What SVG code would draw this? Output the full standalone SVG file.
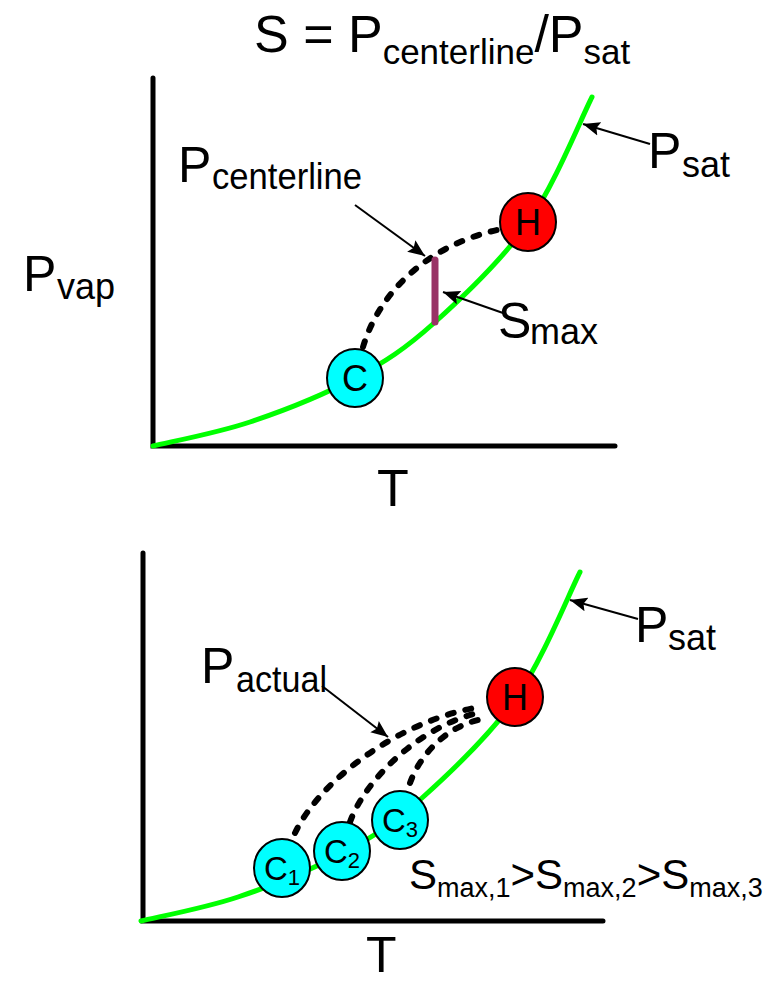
<svg xmlns="http://www.w3.org/2000/svg" width="774" height="982" viewBox="0 0 774 982">
<style>
text{font-family:"Liberation Sans",Arial,sans-serif;fill:#000}
.big{font-size:50px}
.sub{font-size:36px}
.axis{stroke:#000;stroke-width:5;stroke-linecap:round;fill:none}
.psat{stroke:#00ff00;stroke-width:5;stroke-linecap:round;fill:none}
.dash{stroke:#000;stroke-width:6;stroke-linecap:round;stroke-dasharray:6 12;fill:none}
.arrow{stroke:#000;stroke-width:2;fill:none;marker-end:url(#ah)}
.cold{fill:#00ffff;stroke:#000;stroke-width:2}
.hot{fill:#ff0000;stroke:#000;stroke-width:2}
.nt{font-size:36px;text-anchor:middle}
.ct{font-size:33px;text-anchor:middle}
.cs{font-size:22px}
</style>
<defs>
<marker id="ah" markerUnits="userSpaceOnUse" markerWidth="20" markerHeight="16" refX="17" refY="8" orient="auto">
<path d="M0,1 L17,8 L0,15 L3,8 z" fill="#000"/>
</marker>
<path id="curve" d="M153,446 C169.2,442 216.3,433.3 250,422 C283.7,410.7 324.3,394.5 355,378 C385.7,361.5 405.2,348.8 434,323 C462.8,297.2 501.7,260.7 528,223 C554.3,185.3 581.3,118 592,97"/>
</defs>

<g id="title">
<text x="254" y="52" style="font-size:52px">S = P<tspan style="font-size:35px" dy="12">centerline</tspan><tspan dy="-12">/P</tspan><tspan style="font-size:35px" dy="12">sat</tspan></text>
</g>

<g id="top-axes">
<path class="axis" d="M153,78 L153,446 L615,446"/>
</g>
<g id="top-psat-curve">
<use href="#curve" class="psat"/>
</g>

<g id="top-connectors">
<path class="dash" d="M363,347 C380,290 430,245 497,230"/>
<path class="arrow" d="M355,205 L425,256"/>
<path class="arrow" d="M503,313 L443,292"/>
<path class="arrow" d="M650,144 L583,124"/>
</g>

<g id="top-smax-bar">
<path d="M435,260 L435,322" stroke="#993366" stroke-width="7" stroke-linecap="round"/>
</g>

<g id="node-C">
<ellipse class="cold" cx="355" cy="378" rx="28" ry="29"/>
<text class="nt" x="355" y="391">C</text>
</g>
<g id="node-H-top">
<ellipse class="hot" cx="528" cy="222" rx="28" ry="29"/>
<text class="nt" x="528" y="235">H</text>
</g>

<g id="top-labels">
<text class="big" x="178" y="182">P</text>
<text class="sub" x="212" y="189" textLength="150" lengthAdjust="spacingAndGlyphs">centerline</text>
<text class="big" x="648" y="168">P</text>
<text class="sub" x="682" y="177">sat</text>
<text class="big" x="498" y="338">S</text>
<text class="sub" x="530" y="344" textLength="68" lengthAdjust="spacingAndGlyphs">max</text>
<text class="big" x="23" y="291">P</text>
<text class="sub" x="57" y="299">vap</text>
<text class="big" x="377" y="506" style="font-size:52px">T</text>
</g>

<g id="bottom-axes">
<path class="axis" d="M143,553 L143,921 L603,921"/>
</g>
<g id="bottom-psat-curve">
<use href="#curve" class="psat" transform="translate(-12,475)"/>
</g>

<g id="bottom-connectors">
<path class="dash" d="M295,833 C320,780 400,720 480,707"/>
<path class="dash" d="M350,822 C365,780 420,725 482,712"/>
<path class="dash" d="M410,783 C420,755 445,728 478,720"/>
<path class="arrow" d="M322,686 L388,737"/>
<path class="arrow" d="M638,619 L570,600"/>
</g>

<g id="node-C1">
<ellipse class="cold" cx="282" cy="868" rx="28" ry="29"/>
<text class="ct" x="282" y="880">C<tspan class="cs" dy="5">1</tspan></text>
</g>
<g id="node-C2">
<ellipse class="cold" cx="342" cy="851" rx="28" ry="29"/>
<text class="ct" x="342" y="863">C<tspan class="cs" dy="5">2</tspan></text>
</g>
<g id="node-C3">
<ellipse class="cold" cx="400" cy="820" rx="28" ry="29"/>
<text class="ct" x="400" y="832">C<tspan class="cs" dy="5">3</tspan></text>
</g>
<g id="node-H-bottom">
<ellipse class="hot" cx="515" cy="697" rx="28" ry="29"/>
<text class="nt" x="515" y="710">H</text>
</g>

<g id="bottom-labels">
<text class="big" x="201" y="683">P</text>
<text class="sub" x="236" y="692" textLength="91" lengthAdjust="spacingAndGlyphs">actual</text>
<text class="big" x="635" y="642">P</text>
<text class="sub" x="668" y="650">sat</text>
<text x="409" y="889" style="font-size:42px">S<tspan style="font-size:27px" dy="8">max,1</tspan><tspan dy="-8">&gt;S</tspan><tspan style="font-size:27px" dy="8">max,2</tspan><tspan dy="-8">&gt;S</tspan><tspan style="font-size:27px" dy="8">max,3</tspan></text>
<text class="big" x="366" y="972">T</text>
</g>
</svg>
